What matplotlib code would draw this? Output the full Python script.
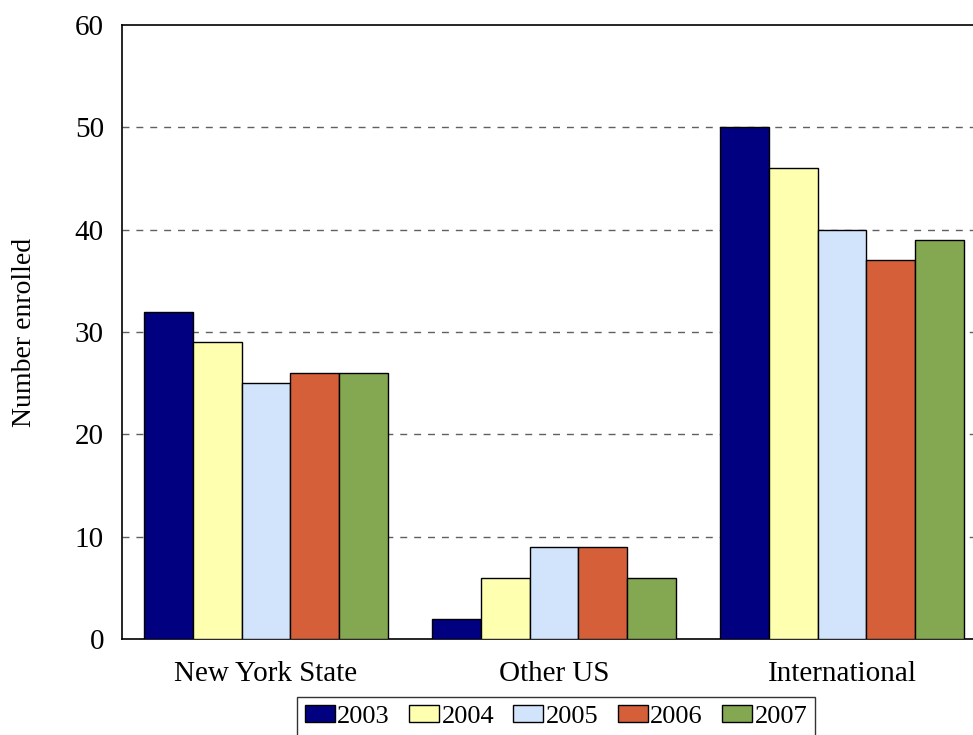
import matplotlib
import matplotlib.pyplot as plt
import numpy as np
matplotlib.use('Agg')

categories = ['New York State', 'Other US', 'International']
years = ['2003', '2004', '2005', '2006', '2007']
values = {
    '2003': [32, 2, 50],
    '2004': [29, 6, 46],
    '2005': [25, 9, 40],
    '2006': [26, 9, 37],
    '2007': [26, 6, 39],
}
colors = ['#000080', '#FFFFB0', '#D2E4FC', '#D45F38', '#84A851']

plt.rcParams['font.family'] = ['Liberation Serif', 'DejaVu Serif']

fig = plt.figure(figsize=(9.73, 7.35), dpi=100)
ax = fig.add_axes([122 / 973, 96 / 735, (986 - 122) / 973, 614 / 735])

x = np.arange(len(categories))
width = 0.17
for i, yr in enumerate(years):
    ax.bar(x + (i - 2) * width, values[yr], width, color=colors[i],
           edgecolor='black', linewidth=1.0, label=yr, zorder=3)

ax.set_xlim(-0.5, 2.5)
ax.set_ylim(0, 60)
ax.set_yticks(range(0, 61, 10))
ax.set_xticks(x)
ax.set_xticklabels(categories)
ax.tick_params(axis='both', length=0, labelsize=21)
ax.tick_params(axis='y', pad=13)
ax.tick_params(axis='x', pad=16)
ax.set_ylabel('Number enrolled', fontsize=20, labelpad=27)

for yv in range(10, 60, 10):
    ax.axhline(yv, color='#606060', linestyle=(0, (5, 5)), linewidth=1.0, zorder=1)

for s in ['left', 'top', 'bottom']:
    ax.spines[s].set_linewidth(1.2)
ax.spines['right'].set_visible(False)

leg = fig.legend(loc='upper center', bbox_to_anchor=(556 / 973, 1 - 697 / 735),
                 ncol=5, fontsize=19, frameon=True, fancybox=False,
                 handlelength=1.14, handleheight=0.64, handletextpad=0.1,
                 columnspacing=0.72, borderpad=0.3, borderaxespad=0)
leg.get_frame().set_edgecolor('black')
leg.get_frame().set_linewidth(1.0)

fig.savefig('out.png', dpi=100)
plt.close()
